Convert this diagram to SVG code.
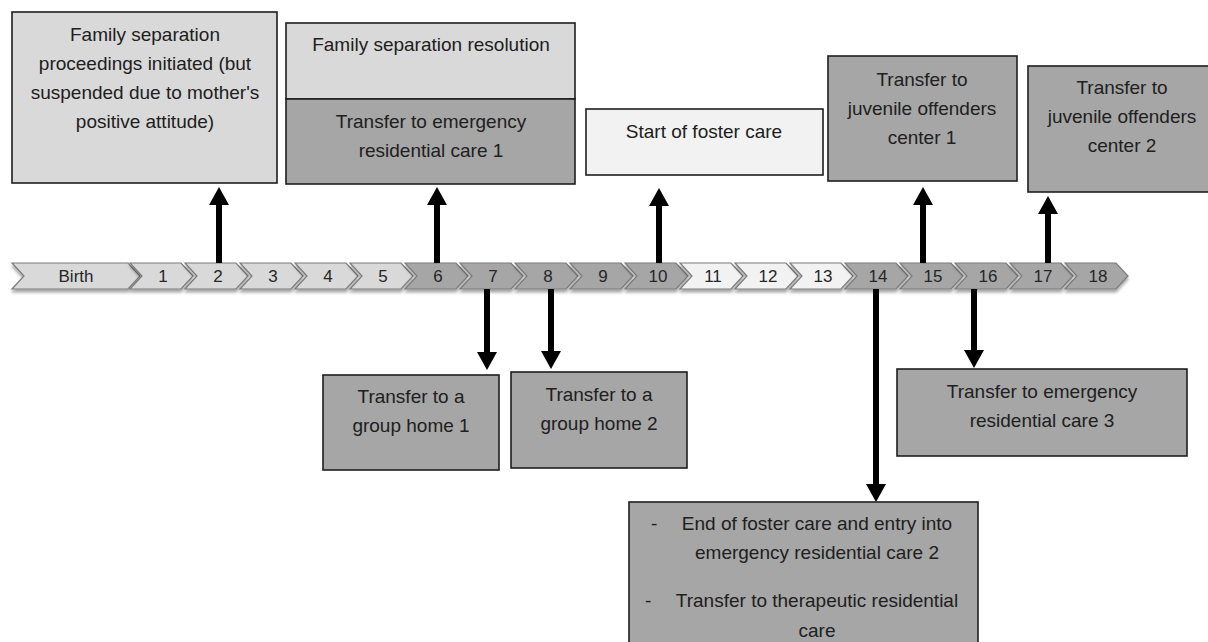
<svg xmlns="http://www.w3.org/2000/svg" xmlns:xlink="http://www.w3.org/1999/xlink" width="1208" height="642" viewBox="0 0 1208 642">
<defs>
<style>
.box{stroke:#1f1f1f;stroke-width:1.6}
.light{fill:#d9d9d9}
.dark{fill:#a6a6a6}
.pale{fill:#f2f2f2}
.t{font-family:"Liberation Sans",Arial,sans-serif;font-size:19px;fill:#202020;text-anchor:middle}
.tl{font-family:"Liberation Sans",Arial,sans-serif;font-size:19px;fill:#202020}
.n{font-family:"Liberation Sans",Arial,sans-serif;font-size:17px;fill:#262626;text-anchor:middle}
.chev{stroke:#7a7a7a;stroke-width:1.2;filter:url(#sh)}
.arr{stroke:#000;stroke-width:6;fill:none;marker-end:url(#head)}
</style>
<filter id="sh" x="-10%" y="-30%" width="120%" height="180%">
<feDropShadow dx="0" dy="3" stdDeviation="1.8" flood-color="#000" flood-opacity="0.35"/>
</filter>
<marker id="head" viewBox="0 0 18 20" markerUnits="userSpaceOnUse" markerWidth="18" markerHeight="20" refX="0" refY="10" orient="auto">
<path d="M0,0 L18,10 L0,20 Z" fill="#000"/>
</marker>
<path id="chev" d="M0,263 H51 L63,276 L51,289 H0 L12,276 Z"/>
</defs>
<rect width="1208" height="642" fill="#fff"/>

<g id="timeline">
<g id="y-birth"><path class="chev light" d="M12,263 H128 L140,276 L128,289 H12 L24,276 Z"/><text class="n" x="76" y="282">Birth</text></g>
<g id="y1"><use xlink:href="#chev" x="130" class="chev light"/><text class="n" x="163" y="282">1</text></g>
<g id="y2"><use xlink:href="#chev" x="185" class="chev light"/><text class="n" x="218" y="282">2</text></g>
<g id="y3"><use xlink:href="#chev" x="240" class="chev light"/><text class="n" x="273" y="282">3</text></g>
<g id="y4"><use xlink:href="#chev" x="295" class="chev light"/><text class="n" x="328" y="282">4</text></g>
<g id="y5"><use xlink:href="#chev" x="350" class="chev light"/><text class="n" x="383" y="282">5</text></g>
<g id="y6"><use xlink:href="#chev" x="405" class="chev dark"/><text class="n" x="438" y="282">6</text></g>
<g id="y7"><use xlink:href="#chev" x="460" class="chev dark"/><text class="n" x="493" y="282">7</text></g>
<g id="y8"><use xlink:href="#chev" x="515" class="chev dark"/><text class="n" x="548" y="282">8</text></g>
<g id="y9"><use xlink:href="#chev" x="570" class="chev dark"/><text class="n" x="603" y="282">9</text></g>
<g id="y10"><use xlink:href="#chev" x="625" class="chev dark"/><text class="n" x="658" y="282">10</text></g>
<g id="y11"><use xlink:href="#chev" x="680" class="chev pale"/><text class="n" x="713" y="282">11</text></g>
<g id="y12"><use xlink:href="#chev" x="735" class="chev pale"/><text class="n" x="768" y="282">12</text></g>
<g id="y13"><use xlink:href="#chev" x="790" class="chev pale"/><text class="n" x="823" y="282">13</text></g>
<g id="y14"><use xlink:href="#chev" x="845" class="chev dark"/><text class="n" x="878" y="282">14</text></g>
<g id="y15"><use xlink:href="#chev" x="900" class="chev dark"/><text class="n" x="933" y="282">15</text></g>
<g id="y16"><use xlink:href="#chev" x="955" class="chev dark"/><text class="n" x="988" y="282">16</text></g>
<g id="y17"><use xlink:href="#chev" x="1010" class="chev dark"/><text class="n" x="1043" y="282">17</text></g>
<g id="y18"><use xlink:href="#chev" x="1065" class="chev dark"/><text class="n" x="1098" y="282">18</text></g>
</g>

<g id="connectors">
<path class="arr" d="M219,263 V205"/>
<path class="arr" d="M437,263 V205"/>
<path class="arr" d="M659,263 V206"/>
<path class="arr" d="M923,263 V205"/>
<path class="arr" d="M1048,263 V214"/>
<path class="arr" d="M487,289 V352"/>
<path class="arr" d="M551,289 V351"/>
<path class="arr" d="M876,289 V484"/>
<path class="arr" d="M974,289 V350"/>
</g>

<g id="n-separation-initiated">
<rect class="box light" x="12" y="12" width="265" height="171"/>
<text class="t" x="145" y="41">Family separation</text>
<text class="t" x="145" y="70">proceedings initiated (but</text>
<text class="t" x="145" y="99">suspended due to mother's</text>
<text class="t" x="145" y="128">positive attitude)</text>
</g>

<g id="n-separation-resolution">
<rect class="box light" x="286" y="23" width="289" height="76"/>
<text class="t" x="431" y="51">Family separation resolution</text>
</g>

<g id="n-emergency-1">
<rect class="box dark" x="286" y="99" width="289" height="85"/>
<text class="t" x="431" y="128">Transfer to emergency</text>
<text class="t" x="431" y="157">residential care 1</text>
</g>

<g id="n-foster-start">
<rect class="box pale" x="586" y="109" width="237" height="66"/>
<text class="t" x="704" y="138">Start of foster care</text>
</g>

<g id="n-juvenile-1">
<rect class="box dark" x="828" y="56" width="189" height="125"/>
<text class="t" x="922" y="86">Transfer to</text>
<text class="t" x="922" y="115">juvenile offenders</text>
<text class="t" x="922" y="144">center 1</text>
</g>

<g id="n-juvenile-2">
<rect class="box dark" x="1028" y="66" width="188" height="126"/>
<text class="t" x="1122" y="94">Transfer to</text>
<text class="t" x="1122" y="123">juvenile offenders</text>
<text class="t" x="1122" y="152">center 2</text>
</g>

<g id="n-group-home-1">
<rect class="box dark" x="323" y="375" width="176" height="95"/>
<text class="t" x="411" y="403">Transfer to a</text>
<text class="t" x="411" y="432">group home 1</text>
</g>

<g id="n-group-home-2">
<rect class="box dark" x="511" y="372" width="176" height="96"/>
<text class="t" x="599" y="401">Transfer to a</text>
<text class="t" x="599" y="430">group home 2</text>
</g>

<g id="n-emergency-3">
<rect class="box dark" x="897" y="369" width="290" height="87"/>
<text class="t" x="1042" y="398">Transfer to emergency</text>
<text class="t" x="1042" y="427">residential care 3</text>
</g>

<g id="n-foster-end">
<rect class="box dark" x="629" y="502" width="349" height="160"/>
<text class="tl" x="651" y="530">-</text>
<text class="t" x="817" y="530">End of foster care and entry into</text>
<text class="t" x="817" y="559">emergency residential care 2</text>
<text class="tl" x="645" y="607">-</text>
<text class="t" x="817" y="607">Transfer to therapeutic residential</text>
<text class="t" x="817" y="637">care</text>
</g>
</svg>
